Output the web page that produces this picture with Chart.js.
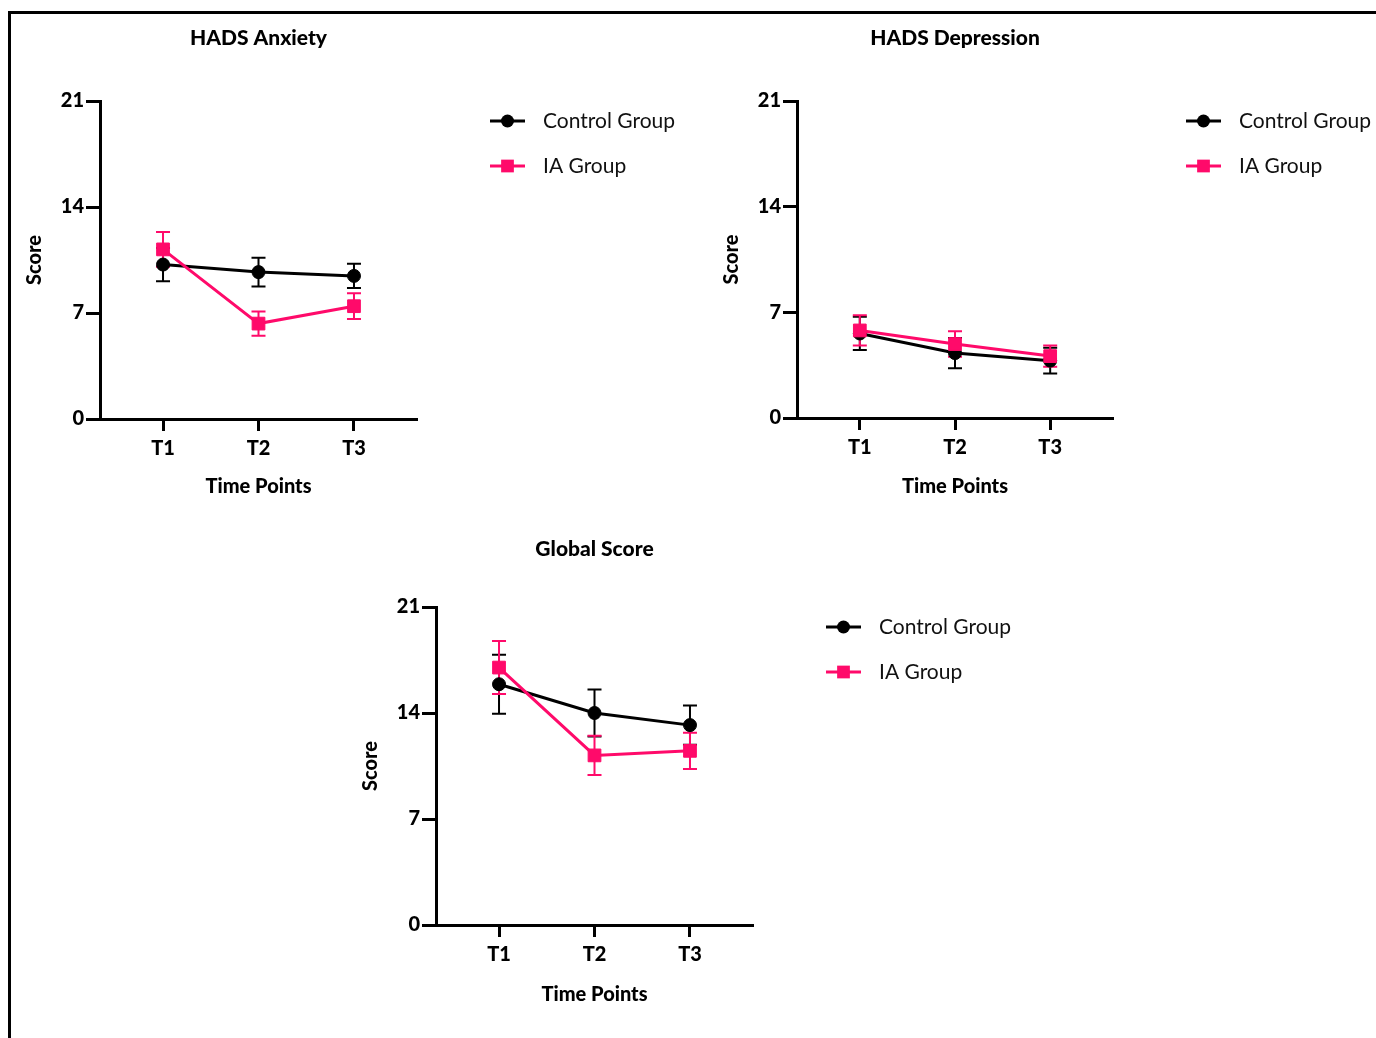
<!DOCTYPE html>
<html>
<head>
<meta charset="utf-8">
<script src="https://cdn.jsdelivr.net/npm/chart.js@4"></script>
<style>
  body { margin: 0; background: #fff; width: 1376px; height: 1038px; overflow: hidden; position: relative; }
  .frame { position: absolute; left: 8px; top: 11px; width: 1400px; height: 1100px; border-top: 3px solid #000; border-left: 3px solid #000; }
  .box { position: absolute; }
</style>
</head>
<body>
<div class="frame"></div>
<div class="box" style="left:0px;top:0px"><canvas id="anxiety" width="690" height="520"></canvas></div>
<div class="box" style="left:697px;top:0px"><canvas id="depression" width="679" height="520"></canvas></div>
<div class="box" style="left:336px;top:506px"><canvas id="global" width="690" height="532"></canvas></div>
<script>
// categories / ticks
const timeLabels = ['T1', 'T2', 'T3'];
const scoreTicks = [0, 7, 14, 21];
const groupNames = ['Control Group', 'IA Group'];

// HADS Anxiety (mean, error)
const anxietyControl = [10.2, 9.7, 9.45];
const anxietyControlErr = [1.1, 0.95, 0.8];
const anxietyIA = [11.2, 6.3, 7.45];
const anxietyIAErr = [1.15, 0.8, 0.85];

// HADS Depression
const depressionControl = [5.6, 4.3, 3.8];
const depressionControlErr = [1.1, 1.0, 0.85];
const depressionIA = [5.8, 4.9, 4.1];
const depressionIAErr = [1.0, 0.85, 0.7];

// Global score
const globalControl = [15.9, 14.0, 13.2];
const globalControlErr = [1.95, 1.55, 1.3];
const globalIA = [17.0, 11.2, 11.5];
const globalIAErr = [1.75, 1.3, 1.2];

const pink = '#ff0a6a';
const fontFamily = 'Lato, "Open Sans", sans-serif';

function toPoints(vals) {
  return vals.map((v, i) => ({ x: i + 1, y: v }));
}

// error bars with caps, drawn under the lines
const errorBars = {
  id: 'errorBars',
  beforeDatasetsDraw(chart) {
    const ctx = chart.ctx;
    const xs = chart.scales.x, ys = chart.scales.y;
    chart.data.datasets.forEach(ds => {
      ctx.save();
      ctx.strokeStyle = ds.borderColor;
      ctx.lineWidth = 2;
      ds.data.forEach((p, i) => {
        const e = ds.errors[i];
        const px = xs.getPixelForValue(p.x);
        const top = ys.getPixelForValue(p.y + e);
        const bot = ys.getPixelForValue(p.y - e);
        ctx.beginPath();
        ctx.moveTo(px, top); ctx.lineTo(px, bot);
        ctx.moveTo(px - 7, top); ctx.lineTo(px + 7, top);
        ctx.moveTo(px - 7, bot); ctx.lineTo(px + 7, bot);
        ctx.stroke();
      });
      ctx.restore();
    });
  }
};

// legend at the right of the plot: line + marker + label
const sideLegend = {
  id: 'sideLegend',
  afterDraw(chart) {
    const { ctx, chartArea } = chart;
    const x0 = chartArea.right + 73;
    chart.data.datasets.forEach((ds, i) => {
      const yy = chartArea.top + 20 + i * 45;
      ctx.save();
      ctx.strokeStyle = ds.borderColor;
      ctx.fillStyle = ds.borderColor;
      ctx.lineWidth = 3;
      ctx.beginPath();
      ctx.moveTo(x0, yy); ctx.lineTo(x0 + 35, yy);
      ctx.stroke();
      const cx = x0 + 17.5;
      if (ds.pointStyle === 'rect') {
        const s = ds.pointRadius * Math.SQRT1_2;
        ctx.fillRect(cx - s, yy - s, 2 * s, 2 * s);
      } else {
        ctx.beginPath();
        ctx.arc(cx, yy, ds.pointRadius, 0, Math.PI * 2);
        ctx.fill();
      }
      ctx.fillStyle = '#111';
      ctx.font = '21px ' + fontFamily;
      ctx.textBaseline = 'middle';
      ctx.textAlign = 'left';
      ctx.fillText(ds.label, chartArea.right + 126, yy);
      ctx.restore();
    });
  }
};

function makeChart(id, title, control, controlErr, ia, iaErr, opt) {
  const axisFont = { family: fontFamily, size: 20, weight: 900, lineHeight: 1.2 };
  const tickFont = { family: fontFamily, size: 20, weight: 900 };
  return new Chart(document.getElementById(id), {
    type: 'line',
    data: {
      datasets: [
        {
          label: groupNames[0], data: toPoints(control), errors: controlErr,
          borderColor: '#000', backgroundColor: '#000', borderWidth: 3,
          pointStyle: 'circle', pointRadius: 6.5, pointBorderWidth: 1, order: 1
        },
        {
          label: groupNames[1], data: toPoints(ia), errors: iaErr,
          borderColor: pink, backgroundColor: pink, borderWidth: 3,
          pointStyle: 'rect', pointRadius: 9, pointBorderWidth: 1, order: 0
        }
      ]
    },
    options: {
      responsive: false,
      animation: false,
      layout: { padding: { left: 0, top: 0, right: opt.right, bottom: 0 } },
      plugins: {
        legend: { display: false },
        tooltip: { enabled: false },
        title: {
          display: true, text: title, fullSize: false, color: '#000',
          font: { family: fontFamily, size: 21, weight: 900, lineHeight: 1.2 },
          padding: { top: opt.titleTop, bottom: 101 - opt.titleTop - 25.2 }
        }
      },
      scales: {
        x: {
          type: 'linear', min: 0.34, max: 3.66,
          afterBuildTicks: s => { s.ticks = timeLabels.map((t, i) => ({ value: i + 1 })); },
          afterFit: s => { s.height = opt.xHeight; },
          ticks: { callback: v => timeLabels[Math.round(v) - 1], color: '#000', font: tickFont, padding: 6 },
          grid: { display: true, drawOnChartArea: false, drawTicks: true, tickLength: 12, tickWidth: 3, color: '#000' },
          border: { display: true, width: 3, color: '#000' },
          title: { display: true, text: 'Time Points', color: '#000', font: axisFont, padding: { top: 0, bottom: opt.xTitleBottom } }
        },
        y: {
          type: 'linear', min: 0, max: 21,
          afterBuildTicks: s => { s.ticks = scoreTicks.map(v => ({ value: v })); },
          afterFit: s => { s.width = 100; },
          ticks: { color: '#000', font: tickFont, padding: 2 },
          grid: { display: true, drawOnChartArea: false, drawTicks: true, tickLength: 14, tickWidth: 3, color: '#000' },
          border: { display: true, width: 3, color: '#000' },
          title: { display: true, text: 'Score', color: '#000', font: axisFont, padding: { top: 23, bottom: 0 } }
        }
      }
    },
    plugins: [errorBars, sideLegend]
  });
}

makeChart('anxiety', 'HADS Anxiety', anxietyControl, anxietyControlErr, anxietyIA, anxietyIAErr,
  { right: 273, titleTop: 26, xHeight: 101, xTitleBottom: 21 });
makeChart('depression', 'HADS Depression', depressionControl, depressionControlErr, depressionIA, depressionIAErr,
  { right: 263, titleTop: 26, xHeight: 102, xTitleBottom: 21 });
makeChart('global', 'Global Score', globalControl, globalControlErr, globalIA, globalIAErr,
  { right: 273, titleTop: 31, xHeight: 113, xTitleBottom: 31 });
</script>
</body>
</html>
